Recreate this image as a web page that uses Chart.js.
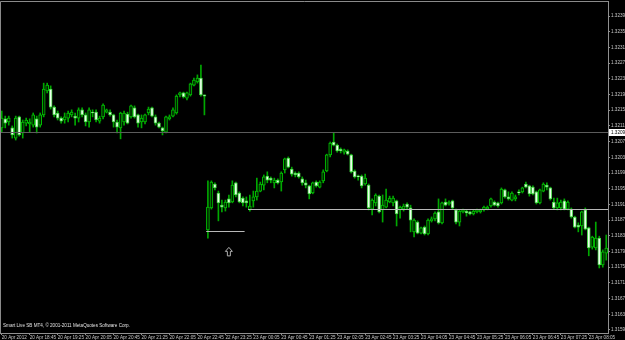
<!DOCTYPE html>
<html><head><meta charset="utf-8">
<script src="https://cdn.jsdelivr.net/npm/chart.js@4.4.0/dist/chart.umd.min.js"></script>
<style>html,body{margin:0;padding:0;background:#000;overflow:hidden}</style>
</head><body>
<canvas id="c" width="625" height="340"></canvas>
<script>
// ---- sessions / categories (5-minute bars) ----
const sessionDays = ['20', '22'];
const sessionStarts = ['18:05', '23:00'];
const sessionBars = [59, 115];
const firstTickLabel = '20 Apr 2012';
const labelEvery = 8;

// ---- OHLC series ----
const openP = [1.32105,1.32128,1.32120,1.32105,1.32079,1.32133,1.32092,1.32117,1.32115,1.32112,
 1.32128,1.32112,1.32138,1.32199,1.32204,1.32158,1.32143,1.32130,1.32125,1.32130,
 1.32138,1.32135,1.32130,1.32151,1.32138,1.32120,1.32145,1.32145,1.32122,1.32133,
 1.32145,1.32145,1.32138,1.32120,1.32105,1.32120,1.32140,1.32133,1.32156,1.32138,
 1.32120,1.32120,1.32143,1.32156,1.32133,1.32117,1.32105,1.32094,1.32128,1.32135,
 1.32143,1.32189,1.32194,1.32181,1.32189,1.32214,1.32222,1.32232,1.32189,1.31845,
 1.31901,1.31962,1.31939,1.31908,1.31901,1.31924,1.31916,1.31965,1.31939,1.31926,
 1.31919,1.31896,1.31919,1.31929,1.31944,1.31959,1.31982,1.31977,1.31965,1.31972,
 1.31967,1.31998,1.32028,1.32000,1.31990,1.31990,1.31975,1.31965,1.31957,1.31939,
 1.31967,1.31954,1.31970,1.31995,1.32036,1.32069,1.32061,1.32051,1.32043,1.32046,
 1.32036,1.31995,1.31982,1.31982,1.31962,1.31959,1.31898,1.31914,1.31931,1.31896,
 1.31903,1.31916,1.31914,1.31919,1.31896,1.31898,1.31911,1.31901,1.31840,1.31865,
 1.31837,1.31852,1.31835,1.31868,1.31873,1.31891,1.31863,1.31916,1.31911,1.31919,
 1.31896,1.31865,1.31891,1.31893,1.31891,1.31886,1.31891,1.31891,1.31896,1.31898,
 1.31906,1.31916,1.31914,1.31914,1.31947,1.31929,1.31921,1.31924,1.31942,1.31942,
 1.31962,1.31957,1.31954,1.31942,1.31914,1.31944,1.31959,1.31952,1.31916,1.31901,
 1.31901,1.31919,1.31898,1.31898,1.31878,1.31857,1.31855,1.31896,1.31850,1.31801,
 1.31799,1.31824,1.31756,1.31786];
const highP = [1.32148,1.32135,1.32135,1.32110,1.32135,1.32135,1.32125,1.32130,1.32128,1.32143,
 1.32135,1.32143,1.32219,1.32219,1.32212,1.32161,1.32148,1.32133,1.32143,1.32148,
 1.32151,1.32143,1.32156,1.32156,1.32143,1.32156,1.32151,1.32151,1.32135,1.32166,
 1.32153,1.32151,1.32140,1.32125,1.32145,1.32148,1.32145,1.32163,1.32161,1.32140,
 1.32138,1.32140,1.32158,1.32158,1.32138,1.32120,1.32107,1.32135,1.32138,1.32156,
 1.32189,1.32196,1.32196,1.32196,1.32219,1.32232,1.32240,1.32265,1.32189,1.31970,
 1.31970,1.31965,1.31944,1.31921,1.31921,1.31934,1.31970,1.31967,1.31942,1.31929,
 1.31929,1.31934,1.31944,1.31977,1.31967,1.31985,1.31993,1.31980,1.31977,1.31975,
 1.31993,1.32028,1.32031,1.32005,1.31993,1.31993,1.31980,1.31972,1.31959,1.31967,
 1.31970,1.31970,1.31998,1.32038,1.32069,1.32092,1.32064,1.32054,1.32051,1.32049,
 1.32038,1.31998,1.31985,1.31985,1.31987,1.31962,1.31924,1.31937,1.31934,1.31934,
 1.31949,1.31931,1.31931,1.31921,1.31906,1.31911,1.31914,1.31908,1.31873,1.31868,
 1.31852,1.31855,1.31873,1.31878,1.31891,1.31924,1.31916,1.31924,1.31919,1.31921,
 1.31898,1.31896,1.31898,1.31896,1.31893,1.31896,1.31898,1.31898,1.31906,1.31906,
 1.31926,1.31919,1.31916,1.31952,1.31949,1.31942,1.31942,1.31934,1.31947,1.31954,
 1.31967,1.31959,1.31957,1.31944,1.31949,1.31965,1.31965,1.31954,1.31926,1.31926,
 1.31921,1.31924,1.31919,1.31901,1.31880,1.31863,1.31893,1.31901,1.31852,1.31829,
 1.31865,1.31829,1.31794,1.31832];
const lowP = [1.32094,1.32105,1.32112,1.32079,1.32074,1.32084,1.32079,1.32110,1.32094,1.32107,
 1.32092,1.32107,1.32133,1.32194,1.32153,1.32133,1.32125,1.32117,1.32117,1.32120,
 1.32133,1.32112,1.32120,1.32133,1.32110,1.32107,1.32133,1.32120,1.32117,1.32128,
 1.32143,1.32135,1.32107,1.32092,1.32077,1.32112,1.32115,1.32130,1.32130,1.32107,
 1.32105,1.32115,1.32138,1.32133,1.32112,1.32105,1.32087,1.32092,1.32125,1.32133,
 1.32140,1.32184,1.32181,1.32176,1.32186,1.32212,1.32219,1.32186,1.32138,1.31824,
 1.31898,1.31947,1.31868,1.31891,1.31893,1.31903,1.31914,1.31929,1.31914,1.31906,
 1.31903,1.31893,1.31903,1.31921,1.31942,1.31947,1.31965,1.31965,1.31952,1.31962,
 1.31944,1.31990,1.32003,1.31982,1.31980,1.31977,1.31959,1.31952,1.31924,1.31937,
 1.31954,1.31952,1.31965,1.31993,1.32031,1.32059,1.32043,1.32041,1.32038,1.32036,
 1.31990,1.31977,1.31972,1.31952,1.31959,1.31896,1.31883,1.31906,1.31888,1.31865,
 1.31901,1.31914,1.31906,1.31855,1.31875,1.31893,1.31898,1.31840,1.31827,1.31835,
 1.31835,1.31832,1.31832,1.31865,1.31868,1.31860,1.31860,1.31906,1.31908,1.31898,
 1.31860,1.31855,1.31888,1.31880,1.31883,1.31883,1.31888,1.31888,1.31893,1.31896,
 1.31903,1.31906,1.31903,1.31911,1.31926,1.31921,1.31919,1.31919,1.31934,1.31939,
 1.31952,1.31931,1.31934,1.31911,1.31911,1.31942,1.31947,1.31921,1.31898,1.31896,
 1.31896,1.31896,1.31896,1.31875,1.31850,1.31840,1.31832,1.31845,1.31779,1.31796,
 1.31794,1.31748,1.31750,1.31768];
const closeP = [1.32130,1.32117,1.32130,1.32087,1.32130,1.32087,1.32120,1.32125,1.32120,1.32138,
 1.32107,1.32138,1.32204,1.32214,1.32158,1.32138,1.32130,1.32122,1.32133,1.32143,
 1.32145,1.32130,1.32151,1.32138,1.32120,1.32151,1.32143,1.32125,1.32130,1.32163,
 1.32151,1.32138,1.32120,1.32107,1.32143,1.32143,1.32117,1.32161,1.32133,1.32117,
 1.32130,1.32138,1.32153,1.32135,1.32117,1.32107,1.32097,1.32133,1.32133,1.32151,
 1.32186,1.32194,1.32184,1.32194,1.32217,1.32227,1.32232,1.32189,1.32186,1.31903,
 1.31967,1.31952,1.31914,1.31903,1.31916,1.31914,1.31959,1.31934,1.31916,1.31914,
 1.31914,1.31906,1.31929,1.31944,1.31962,1.31980,1.31972,1.31972,1.31972,1.31965,
 1.31990,1.32026,1.32005,1.31987,1.31985,1.31980,1.31965,1.31959,1.31937,1.31965,
 1.31957,1.31967,1.31993,1.32036,1.32066,1.32061,1.32046,1.32046,1.32049,1.32038,
 1.31993,1.31980,1.31980,1.31957,1.31977,1.31901,1.31921,1.31934,1.31891,1.31908,
 1.31921,1.31926,1.31926,1.31886,1.31903,1.31906,1.31903,1.31870,1.31870,1.31837,
 1.31850,1.31835,1.31870,1.31873,1.31888,1.31863,1.31914,1.31908,1.31916,1.31901,
 1.31865,1.31893,1.31896,1.31888,1.31886,1.31893,1.31896,1.31896,1.31903,1.31903,
 1.31924,1.31908,1.31906,1.31949,1.31929,1.31924,1.31939,1.31929,1.31939,1.31952,
 1.31954,1.31937,1.31937,1.31914,1.31947,1.31962,1.31954,1.31924,1.31901,1.31914,
 1.31916,1.31898,1.31916,1.31878,1.31852,1.31852,1.31891,1.31847,1.31799,1.31827,
 1.31824,1.31756,1.31789,1.31799];

// ---- price axis ticks ----
const priceTicks = [1.32390,1.32350,1.32310,1.32270,1.32230,1.32190,1.32150,1.32110,1.32070,1.32030,
 1.31990,1.31950,1.31910,1.31870,1.31830,1.31790,1.31750,1.31710,1.31670,1.31630,1.31590];
const yMin = 1.315823, yMax = 1.324283;

// ---- horizontal line objects ----
const levelPrice = [1.32094, 1.31898, 1.31843];
const levelFrom  = [0, 71, 59];
const levelTo    = [173, 173, 69];
const levelColor = ['#5c5c5c', '#b8b8b8', '#b8b8b8'];
const currentPrice = 1.32094;
const arrowIndex = 65, arrowPrice = 1.31789;
const copyright = 'Smart Live SB MT4, \u00A9 2001-2011 MetaQuotes Software Corp.';

function buildCategories(){
  const out = [];
  for (let s = 0; s < sessionDays.length; s++){
    let day = +sessionDays[s];
    let [h, m] = sessionStarts[s].split(':').map(Number);
    for (let k = 0; k < sessionBars[s]; k++){
      out.push(String(day).padStart(2,'0') + ' Apr ' + String(h).padStart(2,'0') + ':' + String(m).padStart(2,'0'));
      m += 5; if (m >= 60){ m -= 60; h++; } if (h >= 24){ h -= 24; day++; }
    }
  }
  return out;
}
const cats = buildCategories();
const bull = openP.map((o,i) => closeP[i] >= o);
const FONT = 'Liberation Sans';

const bgPlugin = {
  id: 'bg',
  beforeDraw(chart){
    const c = chart.ctx; c.save(); c.fillStyle = '#000'; c.fillRect(0,0,chart.width,chart.height); c.restore();
  }
};
const overlayPlugin = {
  id: 'overlay',
  afterDatasetsDraw(chart){
    const c = chart.ctx, a = chart.chartArea, xs = chart.scales.x, ys = chart.scales.y;
    const half = (xs.getPixelForValue(1) - xs.getPixelForValue(0)) / 2;
    c.save();
    // level lines
    for (let k = 0; k < levelPrice.length; k++){
      const y = Math.round(ys.getPixelForValue(levelPrice[k])) + 0.5;
      const x0 = Math.max(a.left, xs.getPixelForValue(levelFrom[k]) - half);
      const x1 = Math.min(a.right, xs.getPixelForValue(levelTo[k]) + half);
      c.strokeStyle = levelColor[k]; c.lineWidth = 1;
      c.beginPath(); c.moveTo(x0, y); c.lineTo(x1, y); c.stroke();
    }
    // arrow
    const ax = xs.getPixelForValue(arrowIndex), ay = ys.getPixelForValue(arrowPrice);
    c.strokeStyle = '#b0b0b0'; c.lineWidth = 1;
    c.beginPath();
    c.moveTo(ax, ay - 4.5); c.lineTo(ax + 3.5, ay - 0.5); c.lineTo(ax + 1.5, ay - 0.5);
    c.lineTo(ax + 1.5, ay + 4); c.lineTo(ax - 1.5, ay + 4); c.lineTo(ax - 1.5, ay - 0.5);
    c.lineTo(ax - 3.5, ay - 0.5); c.closePath(); c.stroke();
    // frame top / left
    c.strokeStyle = '#8a8a8a';
    c.beginPath(); c.moveTo(a.left + 0.5, a.bottom); c.lineTo(a.left + 0.5, a.top + 0.5); c.lineTo(a.right, a.top + 0.5); c.stroke();
    // copyright
    c.fillStyle = '#e0e0e0'; c.font = '4.6px "' + FONT + '"'; c.textBaseline = 'alphabetic'; c.textAlign = 'left';
    c.fillText(copyright, 3, a.bottom - 6.5);
    c.restore();
  },
  afterDraw(chart){
    const c = chart.ctx, a = chart.chartArea, ys = chart.scales.y;
    const y = Math.round(ys.getPixelForValue(currentPrice));
    c.save();
    c.fillStyle = '#ffffff'; c.fillRect(a.right + 1, y - 3, chart.width - a.right - 1, 7);
    c.fillStyle = '#000'; c.font = '4.6px "' + FONT + '"'; c.textBaseline = 'middle'; c.textAlign = 'left';
    c.fillText(currentPrice.toFixed(5), a.right + 3, y + 0.5);
    c.restore();
  }
};

new Chart(document.getElementById('c').getContext('2d'), {
  type: 'bar',
  data: {
    labels: cats,
    datasets: [
      { label: 'body', data: openP.map((o,i) => [Math.min(o, closeP[i]), Math.max(o, closeP[i])]),
        backgroundColor: bull.map(b => b ? '#002400' : '#eaffea'),
        borderColor: bull.map(b => b ? '#00c000' : '#40d040'),
        borderWidth: 1, borderSkipped: false, barThickness: 3, minBarLength: 1, grouped: false, order: 0 },
      { label: 'wick', data: lowP.map((l,i) => [l, highP[i]]),
        backgroundColor: '#00a800', borderWidth: 0, barThickness: 1, grouped: false, order: 1 }
    ]
  },
  options: {
    responsive: false, animation: false, devicePixelRatio: 1,
    layout: { padding: { top: 1, left: 0, right: 0, bottom: 0 } },
    plugins: { legend: { display: false }, tooltip: { enabled: false } },
    scales: {
      x: {
        type: 'category', offset: true,
        grid: { display: true, offset: false, drawOnChartArea: false, drawTicks: true, tickLength: 2, color: '#909090' },
        border: { display: true, color: '#909090' },
        ticks: { autoSkip: false, maxRotation: 0, minRotation: 0, align: 'start', padding: 0,
          font: { family: FONT, size: 4.6 }, color: '#c8c8c8',
          callback: (v) => v === 0 ? firstTickLabel : cats[v] },
        afterBuildTicks: (s) => { s.ticks = s.ticks.filter(t => t.value % labelEvery === 0); },
        afterFit: (s) => { s.height = 7; s.paddingLeft = 0; s.paddingRight = 0; }
      },
      y: {
        position: 'right', min: yMin, max: yMax,
        grid: { display: true, drawOnChartArea: false, drawTicks: true, tickLength: 2, color: '#909090' },
        border: { display: true, color: '#909090' },
        ticks: { padding: 1, font: { family: FONT, size: 4.6 }, color: '#c8c8c8', callback: (v) => Number(v).toFixed(5) },
        afterBuildTicks: (s) => { s.ticks = priceTicks.map(v => ({ value: v })); },
        afterFit: (s) => { s.width = 17; s.paddingTop = 0; s.paddingBottom = 0; }
      }
    }
  },
  plugins: [bgPlugin, overlayPlugin]
});
</script>
</body></html>
